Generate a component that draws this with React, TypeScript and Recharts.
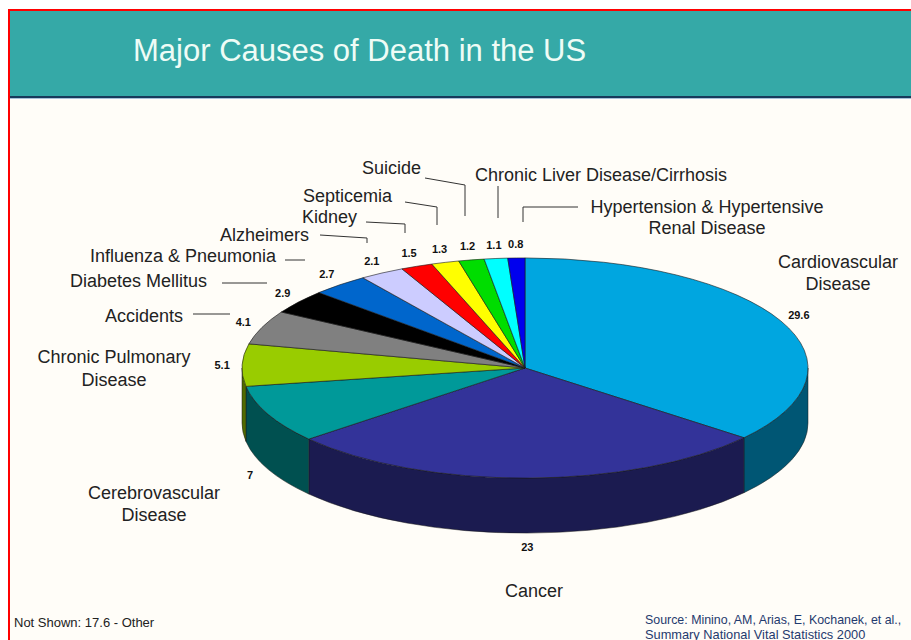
import React from 'react';
import { PieChart, Pie, Cell } from 'recharts';

const causes = [
  'Cardiovascular Disease',
  'Cancer',
  'Cerebrovascular Disease',
  'Chronic Pulmonary Disease',
  'Accidents',
  'Diabetes Mellitus',
  'Influenza & Pneumonia',
  'Alzheimers',
  'Kidney',
  'Septicemia',
  'Suicide',
  'Chronic Liver Disease/Cirrhosis',
  'Hypertension & Hypertensive Renal Disease',
];
const percents = [29.6, 23, 7, 5.1, 4.1, 2.9, 2.7, 2.1, 1.5, 1.3, 1.2, 1.1, 0.8];
const otherShare = 17.6;

const COLORS = [
  '#00a6e0', '#333399', '#009999', '#99cc00', '#808080', '#000000', '#0066cc',
  '#ccccff', '#ff0000', '#ffff00', '#00dd00', '#00ffff', '#0000ee',
];

const data = causes.map((name, i) => ({ name, value: percents[i] }));

const RATIO = 0.389;
const DEPTH = 55;
const RAD = Math.PI / 180;
const FONT = '"Liberation Sans", Arial, Helvetica, sans-serif';

function ept(cx: number, cy: number, rx: number, ry: number, a: number, dy = 0) {
  return `${cx + rx * Math.cos(a * RAD)},${cy - ry * Math.sin(a * RAD) + dy}`;
}

function darken(hex: string, f: number) {
  const n = parseInt(hex.slice(1), 16);
  const r = Math.round(((n >> 16) & 255) * f);
  const g = Math.round(((n >> 8) & 255) * f);
  const b = Math.round((n & 255) * f);
  return `rgb(${r},${g},${b})`;
}

function Slice3D(props: any) {
  const { cx, cy, outerRadius, startAngle, endAngle, fill } = props;
  const rx = outerRadius;
  const ry = outerRadius * RATIO;
  const hi = Math.max(startAngle, endAngle);
  const lo = Math.min(startAngle, endAngle);
  const large = hi - lo > 180 ? 1 : 0;
  const top = `M${cx},${cy} L${ept(cx, cy, rx, ry, hi)} A${rx},${ry} 0 ${large} 1 ${ept(cx, cy, rx, ry, lo)} Z`;
  let wall: string | null = null;
  const wHi = Math.min(hi, 0);
  const wLo = Math.max(lo, -180);
  if (wHi > wLo) {
    const wl = wHi - wLo > 180 ? 1 : 0;
    wall =
      `M${ept(cx, cy, rx, ry, wHi)} A${rx},${ry} 0 ${wl} 1 ${ept(cx, cy, rx, ry, wLo)} ` +
      `L${ept(cx, cy, rx, ry, wLo, DEPTH)} A${rx},${ry} 0 ${wl} 0 ${ept(cx, cy, rx, ry, wHi, DEPTH)} Z`;
  }
  return (
    <g>
      {wall && <path d={wall} fill={darken(fill, 0.52)} stroke="#1a1a1a" strokeWidth={0.5} />}
      <path d={top} fill={fill} stroke="#1a1a1a" strokeWidth={0.6} />
    </g>
  );
}

const renderValue = (p: any) => {
  const { cx, cy, midAngle, outerRadius, value } = p;
  const rx = outerRadius + 20;
  const ry = outerRadius * RATIO + 14;
  const s = Math.sin(midAngle * RAD);
  const dy = s < 0 ? DEPTH * Math.min(1, -s * 3) : 0;
  const x = cx + rx * Math.cos(midAngle * RAD);
  const y = cy - ry * s + dy;
  return (
    <text x={x} y={y} textAnchor="middle" dominantBaseline="central" fontSize={11} fontWeight="bold" fill="#111" fontFamily={FONT}>
      {value}
    </text>
  );
};

const nameStyle = { fontSize: 18, fill: '#222', fontFamily: FONT } as const;

export default function App() {
  return (
    <div style={{ position: 'absolute', left: 0, top: 0, width: 911, height: 640, background: '#ffffff', overflow: 'hidden' }}>
      <div style={{ position: 'absolute', left: 8, top: 9, width: 903, height: 2, background: '#ff0000' }} />
      <div style={{ position: 'absolute', left: 8, top: 9, width: 2, height: 631, background: '#ff0000' }} />
      <div style={{ position: 'absolute', left: 10, top: 11, width: 901, height: 85, background: '#35a9a7' }} />
      <div style={{ position: 'absolute', left: 10, top: 96, width: 901, height: 2, background: '#173a5a' }} />
      <div style={{ position: 'absolute', left: 10, top: 98, width: 901, height: 1, background: '#a8c2d8' }} />
      <div style={{ position: 'absolute', left: 10, top: 99, width: 901, height: 541, background: '#fffdf8' }} />
      <div style={{ position: 'absolute', left: 0, top: 0 }}>
        <PieChart width={911} height={640} margin={{ top: 0, right: 0, bottom: 0, left: 0 }}>
          <Pie
            data={data}
            dataKey="value"
            nameKey="name"
            cx={525}
            cy={368}
            outerRadius={283}
            startAngle={90}
            endAngle={-270}
            isAnimationActive={false}
            shape={Slice3D}
            activeShape={Slice3D}
            inactiveShape={Slice3D}
            label={renderValue}
            labelLine={false}
          >
            {data.map((d, i) => (
              <Cell key={d.name} fill={COLORS[i]} />
            ))}
          </Pie>
        </PieChart>
      </div>
      <svg width={911} height={640} style={{ position: 'absolute', left: 0, top: 0, pointerEvents: 'none' }}>
        <text x={133} y={50} dominantBaseline="central" fontSize={31} fill="#eefcf6" fontFamily={FONT}>
          Major Causes of Death in the US
        </text>
        <g stroke="#333" strokeWidth={1} fill="none">
          <polyline points="425,178 465,185 465,216" />
          <polyline points="498,186 498,218" />
          <polyline points="578,207 523,207 523,222" />
          <polyline points="405,202 437,207 437,225" />
          <polyline points="366,222 405,224 405,233" />
          <polyline points="320,235 367,238 367,243" />
          <polyline points="285,260 305,260" />
          <polyline points="222,283 267,283" />
          <polyline points="193,314 230,314" />
        </g>
        <g dominantBaseline="central">
          <text x={362} y={168} {...nameStyle}>Suicide</text>
          <text x={475} y={175} {...nameStyle}>Chronic Liver Disease/Cirrhosis</text>
          <text x={303} y={196} {...nameStyle}>Septicemia</text>
          <text x={302} y={217} {...nameStyle}>Kidney</text>
          <text x={707} y={207} textAnchor="middle" {...nameStyle}>Hypertension &amp; Hypertensive</text>
          <text x={707} y={228} textAnchor="middle" {...nameStyle}>Renal Disease</text>
          <text x={220} y={235} {...nameStyle}>Alzheimers</text>
          <text x={90} y={256} {...nameStyle}>Influenza &amp; Pneumonia</text>
          <text x={70} y={281} {...nameStyle}>Diabetes Mellitus</text>
          <text x={105} y={316} {...nameStyle}>Accidents</text>
          <text x={114} y={357} textAnchor="middle" {...nameStyle}>Chronic Pulmonary</text>
          <text x={114} y={380} textAnchor="middle" {...nameStyle}>Disease</text>
          <text x={838} y={262} textAnchor="middle" {...nameStyle}>Cardiovascular</text>
          <text x={838} y={284} textAnchor="middle" {...nameStyle}>Disease</text>
          <text x={154} y={493} textAnchor="middle" {...nameStyle}>Cerebrovascular</text>
          <text x={154} y={515} textAnchor="middle" {...nameStyle}>Disease</text>
          <text x={534} y={591} textAnchor="middle" {...nameStyle}>Cancer</text>
          <text x={14} y={622} fontSize={13} fill="#222" fontFamily={FONT}>{`Not Shown: ${otherShare} - Other`}</text>
          <text x={645} y={620} fontSize={12.4} fill="#1f3a6e" fontFamily={FONT}>Source: Minino, AM, Arias, E, Kochanek, et al.,</text>
          <text x={645} y={634} fontSize={12.8} fill="#1f3a6e" fontFamily={FONT}>Summary National Vital Statistics 2000</text>
        </g>
      </svg>
    </div>
  );
}
